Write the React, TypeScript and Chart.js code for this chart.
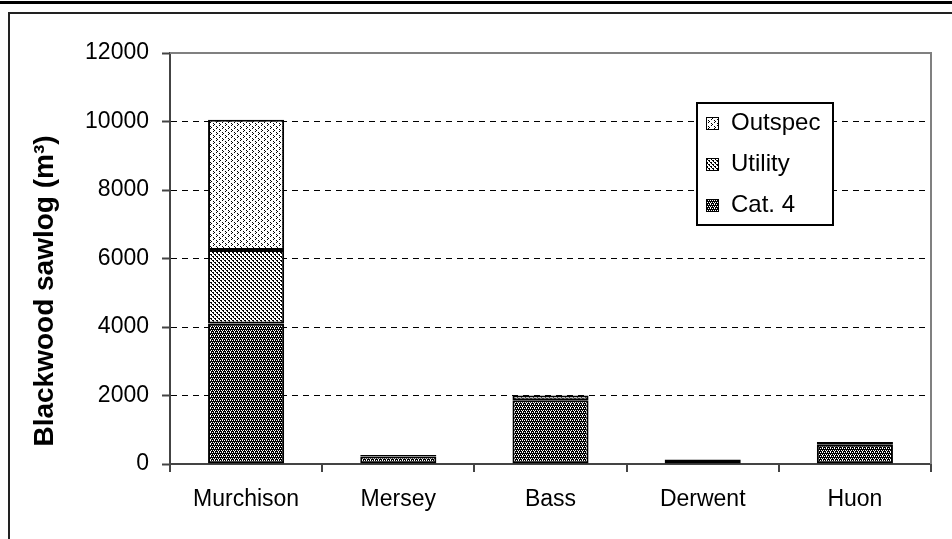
import React, { useEffect, useRef } from "react";
import { Chart, registerables } from "chart.js";
Chart.register(...registerables);

const categories = ["Murchison", "Mersey", "Bass", "Derwent", "Huon"];
const cat4Values = [4100, 220, 1860, 130, 560];
const utilityValues = [2150, 40, 140, null, 80];
const outspecValues = [3800, null, null, null, null];
const yTickValues = [0, 2000, 4000, 6000, 8000, 10000, 12000];
const seriesNames = ["Cat. 4", "Utility", "Outspec"];
const yAxisTitle = "Blackwood sawlog (m³)";

const FONT = "'Liberation Sans', Arial, sans-serif";

function makePattern(rows: string[]): CanvasPattern | string {
  const h = rows.length;
  const w = rows[0].length;
  const c = document.createElement("canvas");
  c.width = w;
  c.height = h;
  const ctx = c.getContext("2d");
  if (!ctx) return "#888";
  ctx.fillStyle = "#fff";
  ctx.fillRect(0, 0, w, h);
  ctx.fillStyle = "#000";
  rows.forEach((r, y) => {
    for (let x = 0; x < r.length; x++) if (r[x] === "#") ctx.fillRect(x, y, 1, 1);
  });
  return ctx.createPattern(c, "repeat") || "#888";
}

const decorPlugin = {
  id: "decor",
  afterDraw(chart: any) {
    const ctx: CanvasRenderingContext2D = chart.ctx;
    const ca = chart.chartArea;
    ctx.save();
    // plot area border (top & right)
    ctx.strokeStyle = "#808080";
    ctx.lineWidth = 2;
    ctx.beginPath();
    ctx.moveTo(ca.left, ca.top);
    ctx.lineTo(ca.right, ca.top);
    ctx.lineTo(ca.right, ca.bottom);
    ctx.stroke();
    // y axis title
    ctx.save();
    ctx.translate(45, 291);
    ctx.rotate(-Math.PI / 2);
    ctx.fillStyle = "#000";
    ctx.font = `bold 28px ${FONT}`;
    ctx.textAlign = "center";
    ctx.textBaseline = "middle";
    ctx.fillText(yAxisTitle, 0, 0);
    ctx.restore();
    // legend box
    const x = 697, y = 103, w = 136, h = 122;
    ctx.fillStyle = "#fff";
    ctx.fillRect(x, y, w, h);
    ctx.strokeStyle = "#000";
    ctx.lineWidth = 2;
    ctx.strokeRect(x, y, w, h);
    const ds = [...chart.data.datasets].reverse();
    ds.forEach((d: any, i: number) => {
      const cy = y + 20 + i * 41;
      ctx.fillStyle = d.backgroundColor;
      ctx.fillRect(706, cy - 6, 13, 13);
      ctx.strokeStyle = "#000";
      ctx.lineWidth = 1;
      ctx.strokeRect(706.5, cy - 5.5, 12, 12);
      ctx.fillStyle = "#000";
      ctx.font = `24px ${FONT}`;
      ctx.textBaseline = "middle";
      ctx.textAlign = "left";
      ctx.fillText(d.label, 731, cy);
    });
    ctx.restore();
  },
};

export default function App() {
  const ref = useRef<HTMLCanvasElement>(null);
  useEffect(() => {
    if (!ref.current) return;
    const pCat4 = makePattern([".#.#", "####", "#.#.", "##.#"]);
    const pUtil = makePattern(["##..", ".#..", "..##", "...#"]);
    const pOut = makePattern(["#.....", ".#....", "#.....", "...#..", "....#.", "...#.."]);
    const chart = new Chart(ref.current, {
      type: "bar",
      data: {
        labels: categories,
        datasets: [
          { label: seriesNames[0], data: cat4Values, backgroundColor: pCat4 as any, borderColor: "#000", borderWidth: 2, borderSkipped: false },
          { label: seriesNames[1], data: utilityValues as any, backgroundColor: pUtil as any, borderColor: "#000", borderWidth: 2, borderSkipped: false },
          { label: seriesNames[2], data: outspecValues as any, backgroundColor: pOut as any, borderColor: "#000", borderWidth: 2, borderSkipped: false },
        ],
      },
      options: {
        responsive: false,
        animation: false,
        layout: { padding: { left: 0, top: 53, right: 21, bottom: 0 } },
        datasets: { bar: { barPercentage: 0.5, categoryPercentage: 1 } },
        plugins: { legend: { display: false }, tooltip: { enabled: false } },
        scales: {
          x: {
            stacked: true,
            grid: { offset: true, drawOnChartArea: false, drawTicks: true, tickLength: 8, color: "#444", tickColor: "#444", lineWidth: 2 },
            border: { color: "#444", width: 2 },
            ticks: { color: "#000", font: { family: FONT, size: 23 }, padding: 14 },
            afterFit: (s: any) => { s.height = 75; },
          },
          y: {
            stacked: true,
            min: 0,
            max: 12000,
            afterBuildTicks: (s: any) => { s.ticks = yTickValues.map((v) => ({ value: v })); },
            grid: {
              color: (c: any) => (c.tick && (c.tick.value === 0 || c.tick.value === 12000) ? "rgba(0,0,0,0)" : "#000"),
              lineWidth: 1,
              tickLength: 8,
              tickColor: "#444",
              tickWidth: 2,
            },
            border: { color: "#444", width: 2, dash: [6, 5] },
            ticks: { color: "#000", font: { family: FONT, size: 23 }, padding: 13, callback: (v: any) => String(v) },
            afterFit: (s: any) => { s.width = 170; },
          },
        },
      },
      plugins: [decorPlugin],
    });
    return () => chart.destroy();
  }, []);
  return (
    <div style={{ position: "fixed", left: 0, top: 0, width: 952, height: 539, background: "#fff", overflow: "hidden" }}>
      <div style={{ position: "absolute", left: 0, top: 1, width: 952, height: 3, background: "#000" }} />
      <div style={{ position: "absolute", left: 8, top: 12, width: 1000, height: 600, borderLeft: "2px solid #222", borderTop: "2px solid #222" }} />
      <canvas ref={ref} width={952} height={539} style={{ position: "absolute", left: 0, top: 0, width: 952, height: 539 }} />
    </div>
  );
}
